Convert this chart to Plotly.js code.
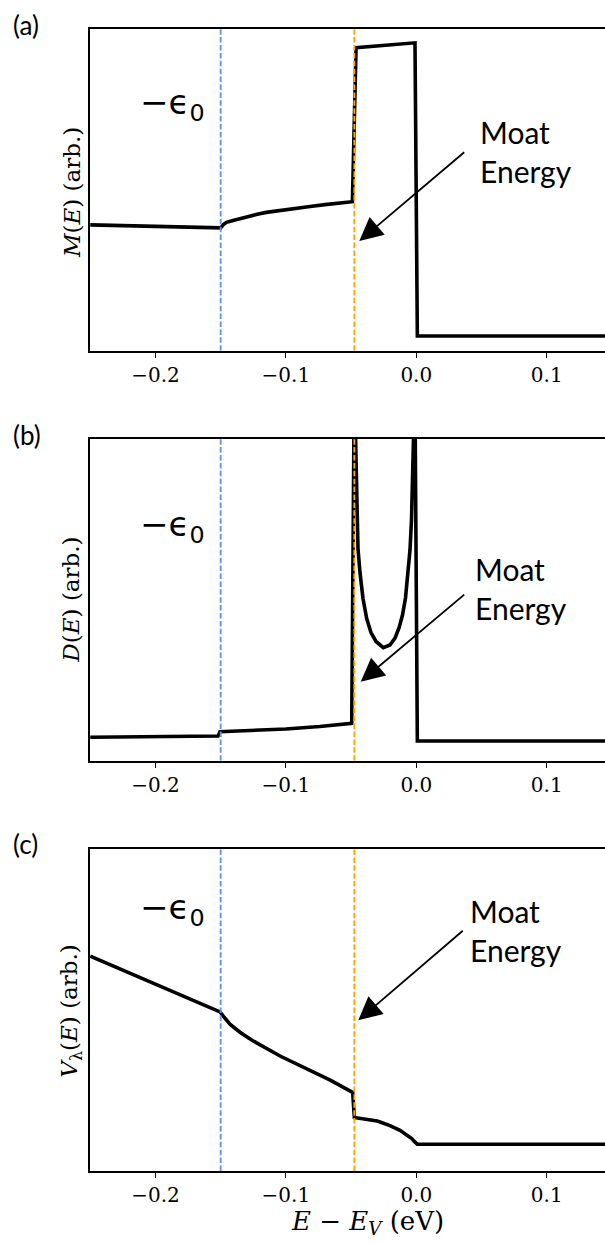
<!DOCTYPE html>
<html>
<head>
<meta charset="utf-8">
<script src="https://cdn.plot.ly/plotly-3.0.1.min.js"></script>
<style>html,body{margin:0;padding:0;background:#fff;}#chart{width:605px;height:1243px;}</style>
</head>
<body>
<div id="chart"></div>
<script>
// ---- data ----
const E_a = [-0.25, -0.2, -0.15, -0.148, -0.1455, -0.1405, -0.13, -0.122, -0.115, -0.1, -0.089, -0.08, -0.07, -0.06, -0.049, -0.0462, -0.001, 0.0008, 0.145];
const M_a = [0.391, 0.387, 0.382, 0.392, 0.399, 0.405, 0.417, 0.424, 0.430, 0.439, 0.444, 0.449, 0.454, 0.458, 0.463, 0.942, 0.957, 0.0457, 0.0457];

const E_b = [-0.25, -0.2, -0.152, -0.1505, -0.1275, -0.1, -0.074, -0.0585, -0.0495, -0.0475, -0.047, -0.04655, -0.04609, -0.04555, -0.04471, -0.04317, -0.04087, -0.03804, -0.03474, -0.0309, -0.02531, -0.02017, -0.01633, -0.01327, -0.01058, -0.00828, -0.00636, -0.00483, -0.00368, -0.00276, -0.00215, -0.0013, 0.0008, 0.145];
const D_b = [0.0727, 0.0737, 0.0768, 0.0901, 0.0939, 0.0985, 0.1063, 0.111, 0.1163, 1.2, 1.2, 1.0, 0.8725, 0.748, 0.6594, 0.5848, 0.504, 0.4419, 0.3984, 0.3705, 0.3512, 0.3595, 0.3812, 0.4124, 0.4528, 0.5056, 0.5771, 0.6548, 0.748, 0.8725, 1.0, 1.3, 0.0612, 0.0612];

const E_c = [-0.25, -0.2, -0.1505, -0.148, -0.1429, -0.1352, -0.126, -0.1045, -0.0815, -0.066, -0.0488, -0.0475, -0.045, -0.04, -0.0355, -0.03, -0.0278, -0.0202, -0.0125, -0.0079, -0.0035, -0.0015, 0.0008, 0.145];
const V_c = [0.667, 0.580, 0.494, 0.481, 0.456, 0.431, 0.406, 0.357, 0.311, 0.282, 0.244, 0.166, 0.1645, 0.162, 0.159, 0.155, 0.1523, 0.141, 0.1265, 0.1147, 0.1007, 0.092, 0.083, 0.083];

const epsilon0 = -0.15;
const moatEnergy = -0.0475;
const vlineY = [0, 1];

const tickVals = [-0.2, -0.1, 0.0, 0.1];
const tickLabels = ['\u22120.2', '\u22120.1', '0.0', '0.1'];

const yTitles = ['<i>M</i>(<i>E</i>) (arb.)', '<i>D</i>(<i>E</i>) (arb.)', '<i>V</i><sub>λ</sub>(<i>E</i>) (arb.)'];
const panelLabels = ['(a)', '(b)', '(c)'];
const xTitle = '<i>E</i> \u2212 <i>E</i><sub><i>V</i></sub> (eV)';
const epsLabel = '\u2212\u03f5<sub>0</sub>';
const moatLabel = 'Moat<br>Energy';

// ---- build ----
const series = [[E_a, M_a], [E_b, D_b], [E_c, V_c]];
const traces = [];
series.forEach((s, i) => {
  const xa = i === 0 ? 'x' : 'x' + (i + 1);
  const ya = i === 0 ? 'y' : 'y' + (i + 1);
  traces.push({x: s[0], y: s[1], xaxis: xa, yaxis: ya, mode: 'lines', line: {color: '#000', width: 3.6}, hoverinfo: 'skip'});
  traces.push({x: [epsilon0, epsilon0], y: vlineY, xaxis: xa, yaxis: ya, mode: 'lines', line: {color: '#6495ED', width: 1.9, dash: '5.5px,2.4px'}, hoverinfo: 'skip'});
  traces.push({x: [moatEnergy, moatEnergy], y: vlineY, xaxis: xa, yaxis: ya, mode: 'lines', line: {color: '#FFA500', width: 1.9, dash: '5.5px,2.4px'}, hoverinfo: 'skip'});
});

const serif = 'DejaVu Serif, Liberation Serif, serif';
const sans = 'Lato, Carlito, Noto Sans, DejaVu Sans, sans-serif';
const epsFont = 'DejaVu Sans, sans-serif';

function xaxisDef() {
  return {range: [-0.2502, 0.1447], tickvals: tickVals, ticktext: tickLabels, ticks: 'outside', ticklen: 5, tickwidth: 1.2, tickcolor: '#000',
    showline: true, linewidth: 2, linecolor: '#000', mirror: true, showgrid: false, zeroline: false,
    tickfont: {family: serif, size: 20, color: '#000'}, fixedrange: true};
}
function yaxisDef(domain) {
  return {range: [0, 1], domain: domain, showticklabels: false, ticks: '', showline: true, linewidth: 2, linecolor: '#000', mirror: false,
    showgrid: false, zeroline: false, fixedrange: true};
}

const domains = [[0.7183, 1], [0.3593, 0.641], [0, 0.282]];
const layout = {
  width: 605, height: 1243,
  margin: {l: 90, r: 0, t: 29, b: 72},
  paper_bgcolor: '#fff', plot_bgcolor: '#fff',
  showlegend: false, hovermode: false,
  xaxis: Object.assign(xaxisDef(), {anchor: 'y'}),
  xaxis2: Object.assign(xaxisDef(), {anchor: 'y2'}),
  xaxis3: Object.assign(xaxisDef(), {anchor: 'y3'}),
  yaxis: Object.assign(yaxisDef(domains[0]), {anchor: 'x'}),
  yaxis2: Object.assign(yaxisDef(domains[1]), {anchor: 'x2'}),
  yaxis3: Object.assign(yaxisDef(domains[2]), {anchor: 'x3'}),
  annotations: []
};

const A = layout.annotations;
const epsY = [0.765, 0.728, 0.812];
const moatX = [0.0473, 0.0437, 0.0399];
const moatY = [0.618, 0.534, 0.746];
const arrowHead = [[-0.0437, 0.341], [-0.0426, 0.2456], [-0.0445, 0.468]];
const arrowTail = [[0.0379, 0.621], [0.0379, 0.520], [0.0368, 0.750]];
const labelY = [1.0035, 0.6444, 0.286];
const yTitleY = [0.8568, 0.4999, 0.1399];

for (let i = 0; i < 3; i++) {
  const xr = i === 0 ? 'x' : 'x' + (i + 1);
  const yr = i === 0 ? 'y' : 'y' + (i + 1);
  A.push({xref: xr, yref: yr, x: -0.2135, y: epsY[i], xanchor: 'left', yanchor: 'middle', text: epsLabel, showarrow: false,
    font: {family: epsFont, size: 34, color: '#000'}});
  A.push({xref: xr, yref: yr, x: moatX[i], y: moatY[i], xanchor: 'left', yanchor: 'middle', align: 'left', text: moatLabel, showarrow: false,
    font: {family: sans, size: 30, color: '#000'}});
  A.push({xref: xr, yref: yr, x: arrowHead[i][0], y: arrowHead[i][1], axref: xr, ayref: yr, ax: arrowTail[i][0], ay: arrowTail[i][1],
    text: '', showarrow: true, arrowhead: 2, arrowsize: 2.6, arrowwidth: 1.8, arrowcolor: '#000', standoff: 0, startstandoff: 0});
  A.push({xref: 'paper', yref: 'paper', x: -0.1535, y: labelY[i], xanchor: 'left', yanchor: 'middle', text: panelLabels[i], showarrow: false,
    font: {family: sans, size: 26, color: '#000'}});
  A.push({xref: 'paper', yref: 'paper', x: -0.0359, y: yTitleY[i], xanchor: 'center', yanchor: 'middle', textangle: -90, text: yTitles[i], showarrow: false,
    font: {family: serif, size: 23, color: '#000'}});
}
A.push({xref: 'paper', yref: 'paper', x: 0.539, y: -0.0449, xanchor: 'center', yanchor: 'middle', text: xTitle, showarrow: false,
  font: {family: serif, size: 26, color: '#000'}});

Plotly.newPlot('chart', traces, layout, {staticPlot: true, displayModeBar: false});
</script>
</body>
</html>
